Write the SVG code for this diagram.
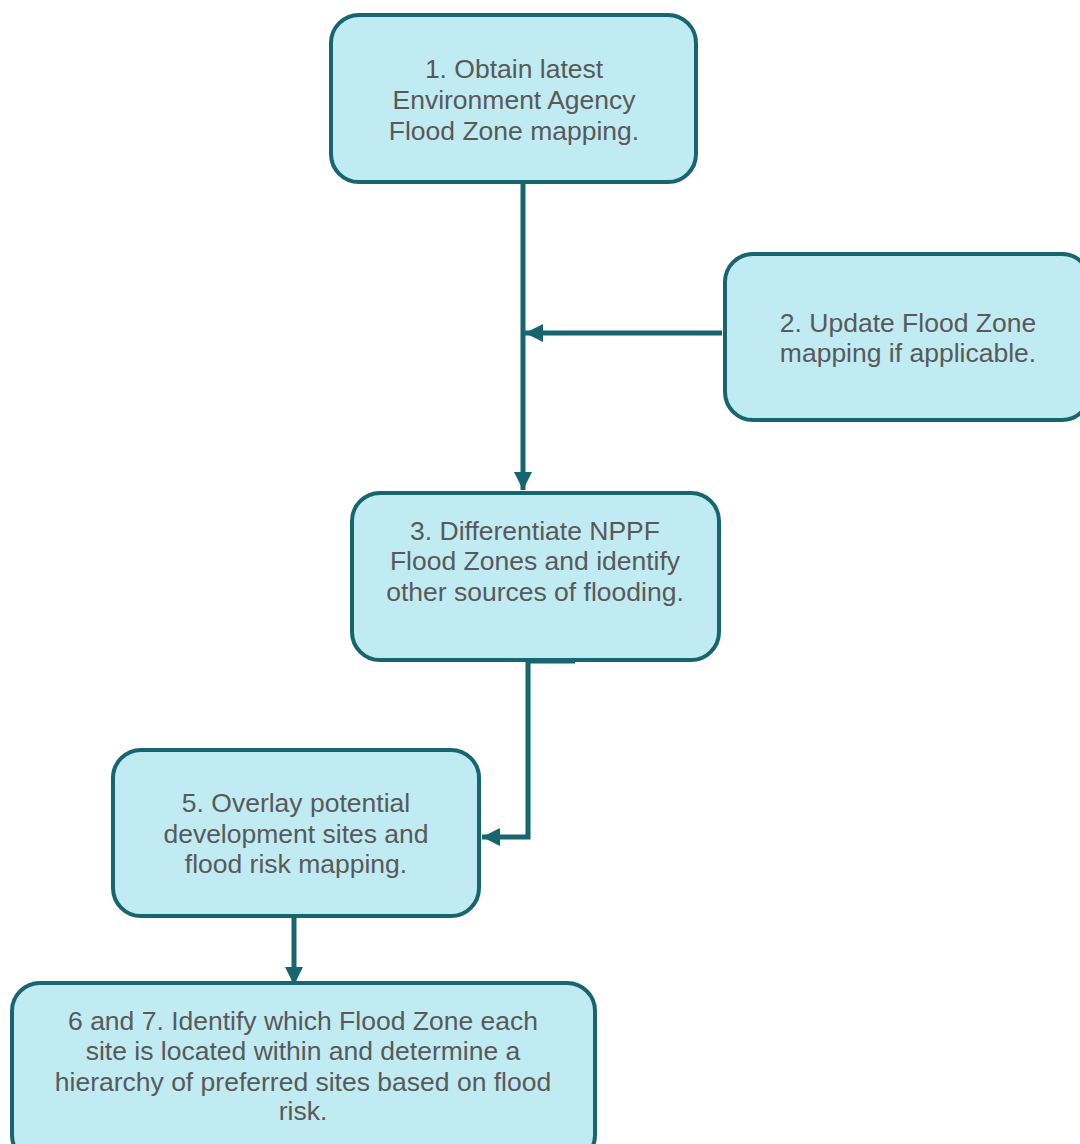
<svg xmlns="http://www.w3.org/2000/svg" width="1080" height="1144" viewBox="0 0 1080 1144">
<style>
.box{fill:#C0EBF2;stroke:#17656F;stroke-width:4}
.t{font-family:"Liberation Sans",Arial,sans-serif;font-size:26.5px;fill:#595959;text-anchor:middle}
.c{fill:none;stroke:#17656F;stroke-width:5}
</style>
<defs>
<marker id="ah" markerWidth="4" markerHeight="4" refX="3.6" refY="2" orient="auto" markerUnits="strokeWidth">
<path d="M0,0.2 L3.6,2 L0,3.8 Z" fill="#17656F"/>
</marker>
</defs>
<rect width="1080" height="1144" fill="#fff"/>
<g id="connectors">
<path class="c" d="M523,180 V490" marker-end="url(#ah)"/>
<path class="c" d="M722,333 H525" marker-end="url(#ah)"/>
<path class="c" d="M575,661 H528 V837 H482" marker-end="url(#ah)"/>
<path class="c" d="M294,918 V985" marker-end="url(#ah)"/>
</g>
<g id="n1">
<rect class="box" x="331" y="15" width="365" height="167" rx="28"/>
<text class="t" x="514" y="78">1. Obtain latest</text>
<text class="t" x="514" y="109">Environment Agency</text>
<text class="t" x="514" y="140">Flood Zone mapping.</text>
</g>
<g id="n2">
<rect class="box" x="725" y="254" width="365" height="166" rx="28"/>
<text class="t" x="908" y="332">2. Update Flood Zone</text>
<text class="t" x="908" y="362">mapping if applicable.</text>
</g>
<g id="n3">
<rect class="box" x="352" y="493" width="367" height="167" rx="28"/>
<text class="t" x="535" y="540">3. Differentiate NPPF</text>
<text class="t" x="535" y="570">Flood Zones and identify</text>
<text class="t" x="535" y="601">other sources of flooding.</text>
</g>
<g id="n5">
<rect class="box" x="113" y="750" width="366" height="166" rx="28"/>
<text class="t" x="296" y="812">5. Overlay potential</text>
<text class="t" x="296" y="843">development sites and</text>
<text class="t" x="296" y="873">flood risk mapping.</text>
</g>
<g id="n6">
<rect class="box" x="12" y="983" width="583" height="180" rx="28"/>
<text class="t" x="303" y="1030">6 and 7. Identify which Flood Zone each</text>
<text class="t" x="303" y="1060">site is located within and determine a</text>
<text class="t" x="303" y="1091">hierarchy of preferred sites based on flood</text>
<text class="t" x="303" y="1120">risk.</text>
</g>
</svg>
